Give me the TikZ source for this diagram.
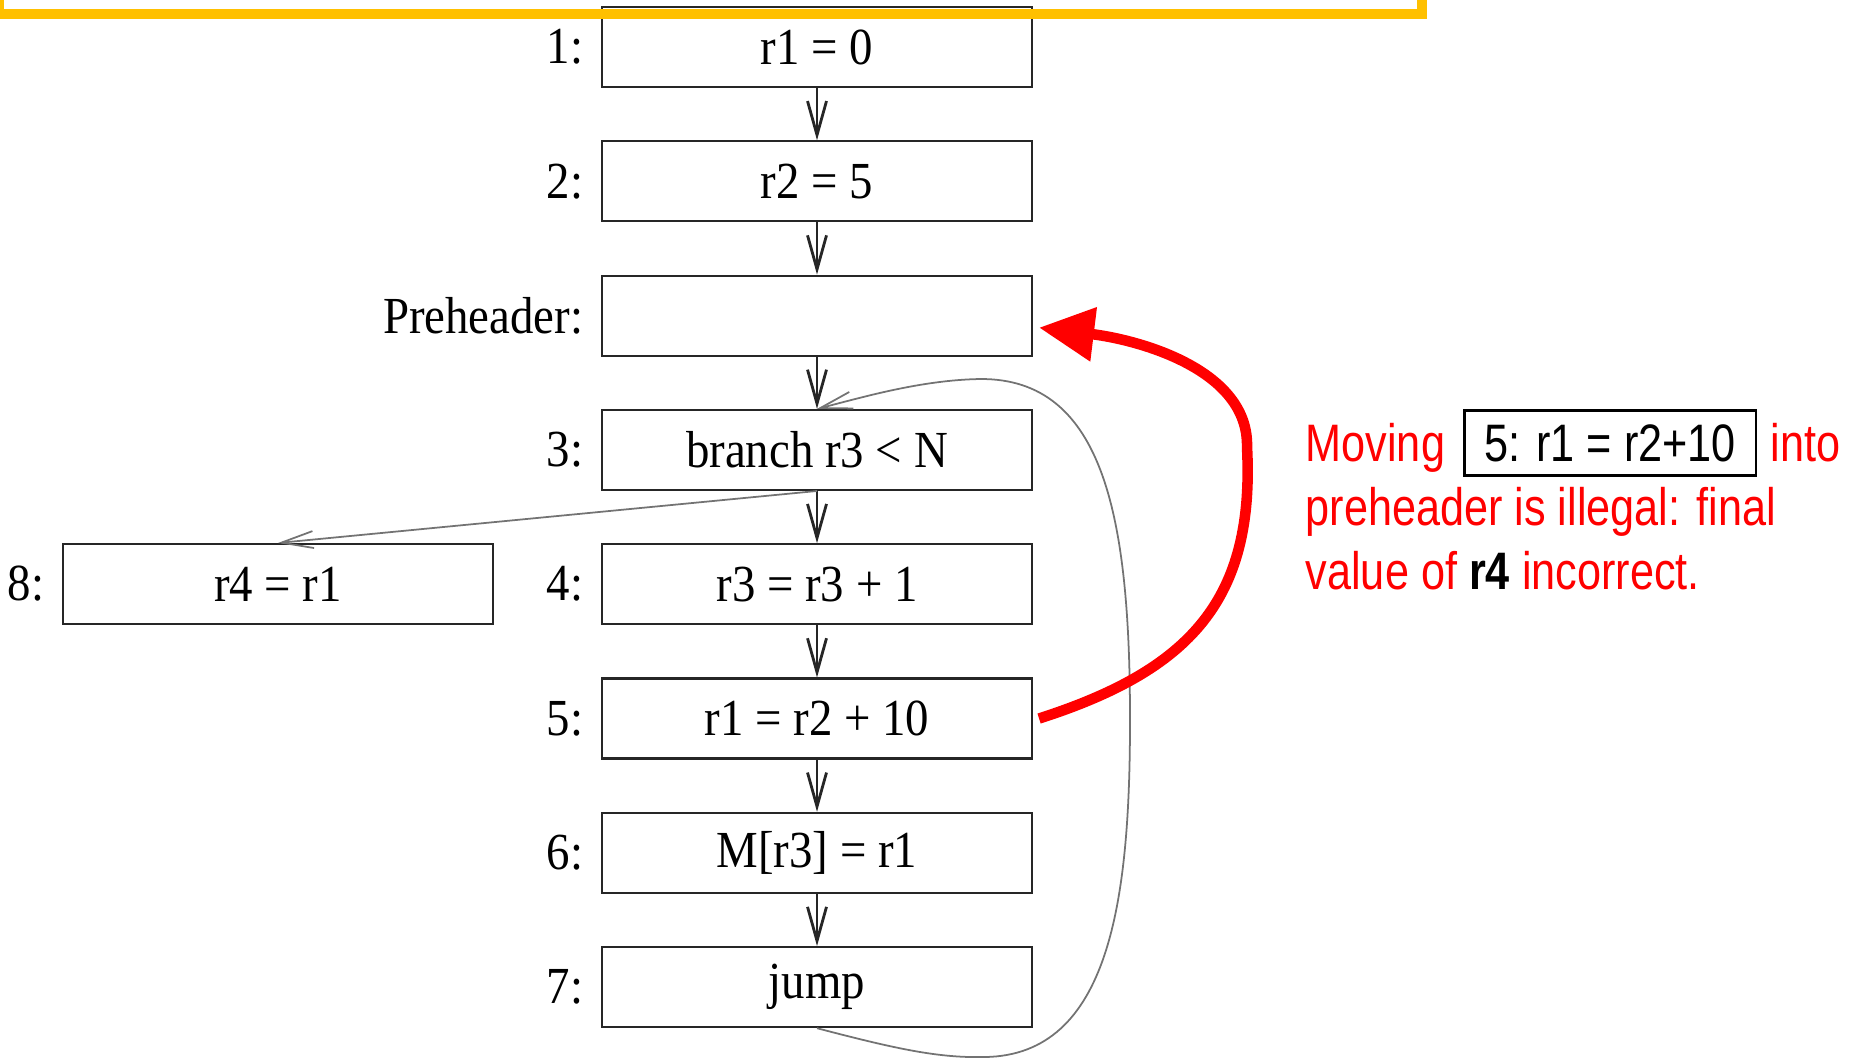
\documentclass[tikz,border=0pt]{standalone}
\usepackage{fontspec}
\setmainfont{Liberation Serif}[FakeStretch=0.9]
\newfontfamily\notefont{Liberation Sans}[FakeStretch=0.82]
\usepackage{xcolor}
\definecolor{FrameYellow}{HTML}{FFC000}
\definecolor{NoteRed}{HTML}{FF0000}
\usepackage{tikz}
\usetikzlibrary{arrows.meta,positioning}

\begin{document}
\begin{tikzpicture}[
  blk/.style={draw=black!85,line width=0.6pt,minimum width=4.3cm,minimum height=0.8cm,inner sep=0pt,font=\fontsize{14.8}{17}\selectfont},
  lbl/.style={inner sep=0pt,font=\fontsize{14.8}{17}\selectfont},
  flow/.style={-{Straight Barb[length=0.34cm,width=0.19cm,line width=0.8pt]},black!85,line width=0.55pt},
  back/.style={-{Straight Barb[length=0.32cm,width=0.17cm]},black!55,line width=0.5pt},
  note/.style={inner sep=0pt,text=NoteRed,font=\notefont\fontsize{15}{18}\selectfont},
  stmt/.style={draw=black,line width=0.8pt,inner xsep=0.2cm,inner ysep=0.14cm,text=black,font=\notefont\fontsize{15}{18}\selectfont},
]
  \useasboundingbox (0,0) rectangle (18.54,-10.58);
  % main column of the loop
  \foreach \n/\lab/\txt [count=\k from 0] in {1/1:/{r1 = 0},2/2:/{r2 = 5},p/Preheader:/{},3/3:/{branch r3 < N},4/4:/{r3 = r3 + 1},5/5:/{r1 = r2 + 10},6/6:/{M[r3] = r1},7/7:/{jump}}{
    \node[blk] (b\n) at (8.17,{-0.47-1.343*\k}) {\txt};
    \node[lbl,left=0.17cm of b\n] (l\n) {\lab};
  }
  \node[blk] (b8) at (2.78,-5.84) {r4 = r1};
  \node[lbl,left=0.17cm of b8] (l8) {8:};
  \foreach \a/\b in {1/2,2/p,p/3,3/4,4/5,5/6,6/7}{\draw[flow] (b\a) -- (b\b);}
  \draw[back] (b3.south) -- (b8.north);
  \draw[back] (b7.south) .. controls (9.00,-10.50) and (9.40,-10.58) .. (9.85,-10.57)
    .. controls (11.10,-10.55) and (11.30,-9.00) .. (11.30,-7.20)
    .. controls (11.30,-5.20) and (11.05,-3.78) .. (9.80,-3.79)
    .. controls (9.20,-3.80) and (8.60,-3.98) .. (b3.north);
  % hoisting attempt
  \draw[NoteRed,line width=3pt,-{Triangle[length=0.55cm,width=0.52cm]}]
    ([xshift=0.06cm]b5.east) .. controls (11.90,-6.70) and (12.55,-6.00) .. (12.47,-4.47)
    .. controls (12.49,-3.70) and (11.40,-3.40) .. ([shift={(0.06,-0.12)}]bp.east);
  \node[note,anchor=base west] (mv) at (13.05,-4.61) {Moving};
  \node[stmt,anchor=base west] (st) at (14.63,-4.61) {5: r1 = r2+10};
  \node[note,anchor=base west] (into) at (17.70,-4.61) {into};
  \node[note,anchor=base west] (ln2) at (13.05,-5.25) {preheader is illegal: final};
  \node[note,anchor=base west] (ln3) at (13.05,-5.89) {value of \textcolor{black}{\bfseries r4} incorrect.};
  \draw[FrameYellow,line width=2.6pt] (-0.007,0.6) rectangle (14.22,-0.14);
\end{tikzpicture}
\end{document}
